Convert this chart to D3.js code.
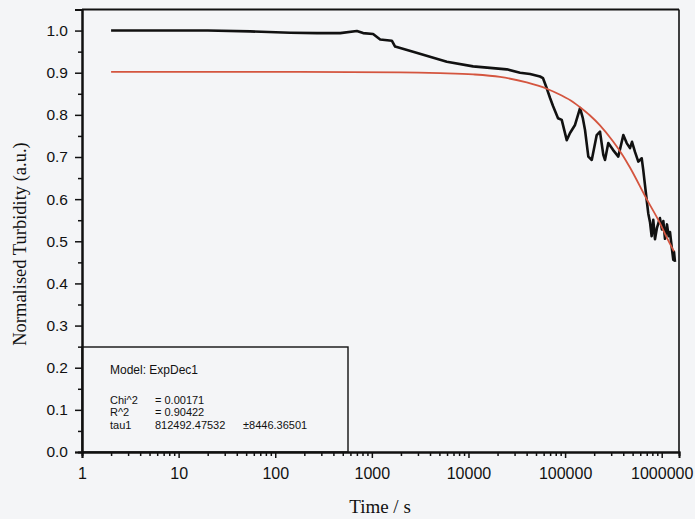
<!DOCTYPE html>
<html>
<head>
<meta charset="utf-8">
<script src="https://cdn.jsdelivr.net/npm/d3@7"></script>
<style>
  html, body { margin: 0; padding: 0; background: #f4f5f7; }
  svg { display: block; }
</style>
</head>
<body>
<svg id="chart" width="695" height="519"></svg>
<script>
// ---- data ----
const measuredTime = [2, 20, 55, 143, 271, 470, 700, 812, 1030, 1220, 1610, 1740, 2670, 5970, 11170, 24900, 34200, 43400, 55000, 59100, 64600, 69900, 75000, 84500, 92300, 104000, 112500, 126700, 142800, 152300, 160800, 174000, 188800, 212500, 229800, 248600, 258800, 280000, 313000, 355500, 400600, 434200, 469500, 492800, 529000, 572600, 620800, 644400, 671000, 699000, 726000, 756000, 787000, 818000, 852000, 893000, 959000, 1006000, 1040000, 1081000, 1134000, 1180000, 1218000, 1268000, 1318000, 1340000, 1372000];
const measuredTurbidity = [1.000, 1.000, 0.998, 0.995, 0.994, 0.994, 0.999, 0.994, 0.992, 0.979, 0.976, 0.962, 0.950, 0.926, 0.915, 0.908, 0.900, 0.897, 0.891, 0.887, 0.863, 0.840, 0.821, 0.792, 0.788, 0.740, 0.757, 0.776, 0.816, 0.793, 0.764, 0.701, 0.693, 0.752, 0.760, 0.705, 0.693, 0.733, 0.717, 0.701, 0.752, 0.733, 0.721, 0.736, 0.712, 0.689, 0.697, 0.669, 0.634, 0.598, 0.566, 0.546, 0.512, 0.551, 0.505, 0.532, 0.555, 0.528, 0.548, 0.506, 0.540, 0.512, 0.522, 0.487, 0.456, 0.475, 0.451];

const fitTime = [2, 181, 1963, 5090, 11170, 21230, 40100, 64600, 90000, 121700, 142800, 180000, 229800, 315700, 400000, 469500, 699000, 959000, 1100000, 1340000];
const fitTurbidity = [0.902, 0.902, 0.901, 0.899, 0.896, 0.890, 0.877, 0.862, 0.847, 0.830, 0.818, 0.799, 0.775, 0.736, 0.702, 0.675, 0.600, 0.543, 0.514, 0.476];

const xMajorTicks = [1, 10, 100, 1000, 10000, 100000, 1000000];
const yMajorTicks = [0, 0.1, 0.2, 0.3, 0.4, 0.5, 0.6, 0.7, 0.8, 0.9, 1.0];

const fitModel = "Model: ExpDec1";
const fitStatNames = ["Chi^2", "R^2", "tau1"];
const fitStatValues = ["= 0.00171", "= 0.90422", "812492.47532"];
const fitStatErrors = ["", "", "\u00b18446.36501"];

// ---- layout ----
const svg = d3.select("#chart");
const L = 82, R = 679, T = 9.5, B = 452;

const x = d3.scaleLog().domain([1, 1.51e6]).range([L, R]);
const y = d3.scaleLinear().domain([0, 1.05]).range([B, T]);

svg.append("rect").attr("x", 0).attr("y", 0).attr("width", 695).attr("height", 519).attr("fill", "#f4f5f7");

// frame (top & right)
svg.append("line").attr("x1", L).attr("x2", R).attr("y1", T).attr("y2", T)
  .attr("stroke", "#111").attr("stroke-width", 2.2);
svg.append("line").attr("x1", R).attr("x2", R).attr("y1", T).attr("y2", B)
  .attr("stroke", "#111").attr("stroke-width", 1.6);

// minor ticks
const xMinor = [];
for (let k = 0; k <= 6; k++) for (let m = 2; m <= 9; m++) {
  const v = m * Math.pow(10, k);
  if (v <= 1.51e6) xMinor.push(v);
}
const yMinor = d3.range(0.05, 1.05, 0.1);

const xAxisMinor = svg.append("g").attr("transform", `translate(0,${B})`)
  .call(d3.axisBottom(x).tickValues(xMinor).tickSize(4).tickFormat(""));
const yAxisMinor = svg.append("g").attr("transform", `translate(${L},0)`)
  .call(d3.axisLeft(y).tickValues(yMinor).tickSize(4).tickFormat(""));

const xAxis = svg.append("g").attr("transform", `translate(0,${B})`)
  .call(d3.axisBottom(x).tickValues(xMajorTicks).tickSize(6).tickPadding(10).tickFormat(d3.format("d")));
const yAxis = svg.append("g").attr("transform", `translate(${L},0)`)
  .call(d3.axisLeft(y).tickValues(yMajorTicks).tickSize(7).tickPadding(7).tickFormat(d3.format(".1f")));

[xAxisMinor, yAxisMinor, xAxis, yAxis].forEach(g => {
  g.select(".domain").attr("stroke", "#111").attr("stroke-width", 2);
  g.selectAll(".tick line").attr("stroke", "#111").attr("stroke-width", 1.5);
});
xAxis.selectAll(".tick text").attr("font-family", "'Liberation Sans', Arial, sans-serif")
  .attr("font-size", 16).attr("fill", "#111");
yAxis.selectAll(".tick text").attr("font-family", "'Liberation Sans', Arial, sans-serif")
  .attr("font-size", 15.5).attr("fill", "#111");

// axis titles
svg.append("text").attr("x", 380).attr("y", 513).attr("text-anchor", "middle")
  .attr("font-family", "'Liberation Serif', 'Times New Roman', serif").attr("font-size", 19)
  .attr("fill", "#111").text("Time / s");
svg.append("text").attr("transform", "translate(26,244) rotate(-90)").attr("text-anchor", "middle")
  .attr("font-family", "'Liberation Serif', 'Times New Roman', serif").attr("font-size", 18.5)
  .attr("fill", "#111").text("Normalised Turbidity (a.u.)");

// lines
const measured = measuredTime.map((t, i) => [t, measuredTurbidity[i]]);
const fitted = fitTime.map((t, i) => [t, fitTurbidity[i]]);

svg.append("path").datum(measured)
  .attr("d", d3.line().x(d => x(d[0])).y(d => y(d[1])))
  .attr("fill", "none").attr("stroke", "#111").attr("stroke-width", 2.6)
  .attr("stroke-linejoin", "round");

svg.append("path").datum(fitted)
  .attr("d", d3.line().curve(d3.curveMonotoneX).x(d => x(d[0])).y(d => y(d[1])))
  .attr("fill", "none").attr("stroke", "#d4553f").attr("stroke-width", 1.8);

// fit-results box
const bx = L, by = 347, bw = 348 - L, bh = B - 347;
svg.append("rect").attr("x", bx).attr("y", by).attr("width", bw).attr("height", bh)
  .attr("fill", "none").attr("stroke", "#111").attr("stroke-width", 1.4);

const tf = "'Liberation Sans', Arial, sans-serif";
const fs = 11;
svg.append("text").attr("x", 110).attr("y", 374).attr("font-family", tf).attr("font-size", 12)
  .attr("fill", "#111").text(fitModel);
const rowY = [403.5, 416, 428.5];
fitStatNames.forEach((n, i) => {
  svg.append("text").attr("x", 110).attr("y", rowY[i]).attr("font-family", tf).attr("font-size", fs)
    .attr("fill", "#111").text(n);
  svg.append("text").attr("x", 155).attr("y", rowY[i]).attr("font-family", tf).attr("font-size", fs)
    .attr("fill", "#111").text(fitStatValues[i]);
  if (fitStatErrors[i]) svg.append("text").attr("x", 243).attr("y", rowY[i]).attr("font-family", tf)
    .attr("font-size", fs).attr("fill", "#111").text(fitStatErrors[i]);
});
</script>
</body>
</html>
